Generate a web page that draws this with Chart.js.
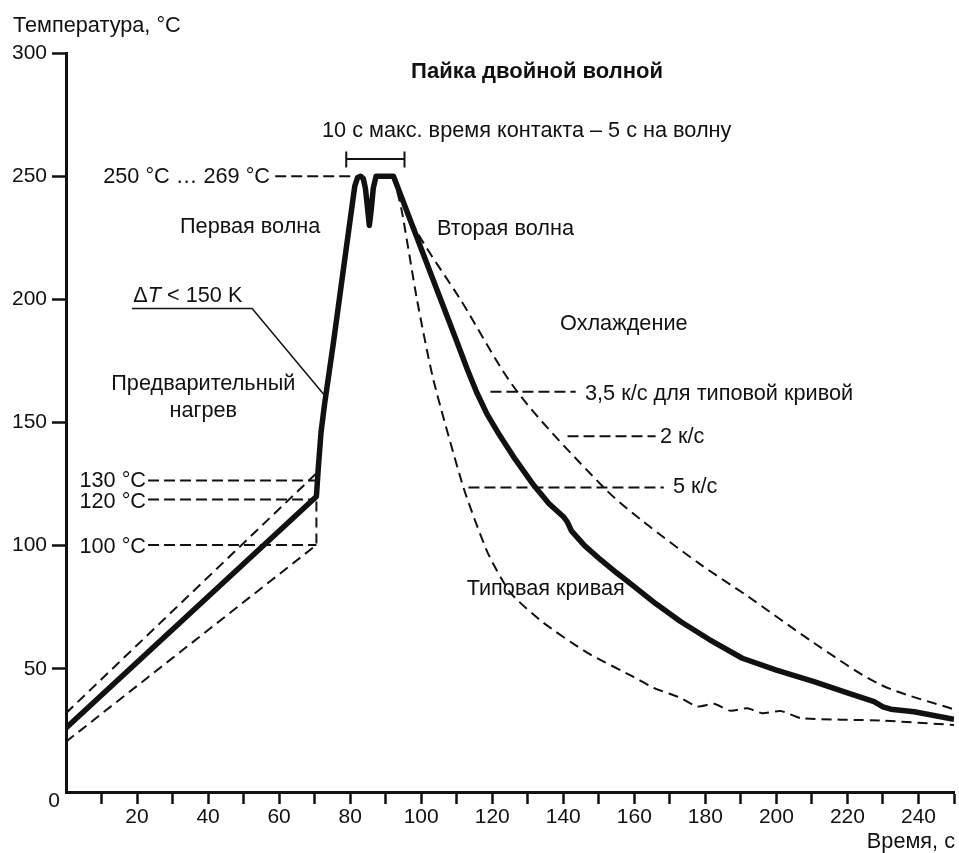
<!DOCTYPE html>
<html>
<head>
<meta charset="utf-8">
<style>
  html, body { margin: 0; padding: 0; background: #fff; }
  canvas { display: block; }
</style>
<script src="https://cdn.jsdelivr.net/npm/chart.js@4.4.1/dist/chart.umd.min.js"></script>
</head>
<body>
<canvas id="chart" width="959" height="853"></canvas>
<script>
// wave soldering profile: time, s / temperature, °C
const profileTime = [0, 70.5, 71.0, 71.8, 72.8, 75.3, 78.6, 81.3, 82.1, 82.9, 83.7, 84.3, 84.9, 85.4, 85.9, 86.5, 87.3,
  92.2, 104, 110, 113, 115.6, 118.5, 122, 126.5, 131.7, 136, 140.2, 141.2, 142.3, 146, 150.5, 155, 159.9,
  166, 173, 181, 190.4, 200, 210.6, 220, 227.5, 230, 232.2, 238.8, 250];
const profileTemp = [26, 120, 131, 146, 157.5, 182.5, 217.5, 246, 249.5, 250, 249, 245, 237, 230, 236, 245, 250,
  250, 205.5, 183, 171.5, 162.3, 153.5, 145, 135, 124.5, 117, 111.5, 109.5, 106, 100, 94.3, 89, 83.5,
  76.5, 69.2, 62, 54.3, 49.5, 44.8, 40.2, 36.7, 34.6, 33.6, 32.6, 29.5];

// slow cooling limit (2 K/s)
const slowTime = [92.2, 98.4, 111, 127.1, 151.4, 161.8, 178.7, 191.8, 210.6, 229.4, 250];
const slowTemp = [250, 228.5, 200, 162.4, 123.6, 110.6, 92.3, 79.6, 60.5, 43.5, 33.5];

// typical curve
const typicalTime = [92.2, 94.6, 98.8, 103.4, 111.9, 118.7, 125.1, 134.4, 146.8, 159.8, 165.4, 173,
  177.7, 182.4, 187.1, 191.8, 196, 201.2, 206.9, 229.4, 250];
const typicalTemp = [250, 235.4, 200, 167.5, 123.6, 97.2, 80.9, 68.7, 56.5, 46.7, 42.3, 38.2,
  34.7, 35.8, 33, 34, 32, 32.9, 30, 29, 27.2];

// preheat band
const preUpperTime = [0, 71.1];
const preUpperTemp = [32, 130.2];
const preLowerTime = [0, 70.5, 70.5];
const preLowerTemp = [20.4, 100.3, 119];

// dashed guide lines to the labels
const guideFrom = [23.1, 23.1, 23.1, 58.9, 119.5, 141.2, 113.3];
const guideTo = [70.7, 70.5, 70.5, 81, 143.5, 166, 168.3];
const guideTemp = [126.5, 118.7, 100.3, 250, 162.5, 144.4, 123.6];

// delta T pointer and contact time bracket
const deltaTime = [18.6, 52.4, 72.6];
const deltaTemp = [196.3, 196.3, 161.4];
const bracketTime = [78.9, 78.9, 78.9, 95.3, 95.3, 95.3];
const bracketTemp = [253.5, 260, 257, 257, 260, 253.5];

const ink = "#111";
const fontFamily = '"Liberation Sans", Arial, Helvetica, sans-serif';
const textSize = 21.7;

function points(xs, ys) {
  return xs.map((x, i) => ({ x: x, y: ys[i] }));
}

function series(xs, ys, style) {
  return Object.assign({
    data: points(xs, ys),
    borderColor: ink,
    pointRadius: 0,
    fill: false,
    tension: 0,
    borderWidth: 2
  }, style);
}

const dashed = { borderDash: [10, 6], borderWidth: 2 };

const datasets = [
  series(profileTime, profileTemp, { borderWidth: 5.5, borderJoinStyle: "round" }),
  series(slowTime, slowTemp, Object.assign({ tension: 0.3 }, dashed)),
  series(typicalTime, typicalTemp, Object.assign({ tension: 0.2 }, dashed)),
  series(preUpperTime, preUpperTemp, dashed),
  series(preLowerTime, preLowerTemp, dashed),
  series(deltaTime, deltaTemp, { borderWidth: 1.5 }),
  series(bracketTime, bracketTemp, { borderWidth: 2 })
];
guideTemp.forEach((t, i) => {
  datasets.push(series([guideFrom[i], guideTo[i]], [t, t], { borderDash: [11, 5], borderWidth: 2 }));
});

// texts placed on the canvas
const labels = [
  { text: "Температура, °C", x: 13, y: 31.7, align: "left" },
  { text: "Пайка двойной волной", x: 537, y: 77.5, align: "center", bold: true },
  { text: "10 с макс. время контакта – 5 с на волну", x: 322, y: 136.7, align: "left" },
  { text: "250 °C … 269 °C", x: 270, y: 183.3, align: "right" },
  { text: "Первая волна", x: 180, y: 233.3, align: "left" },
  { text: "Вторая волна", x: 437, y: 235, align: "left" },
  { text: "Охлаждение", x: 560, y: 330, align: "left" },
  { text: "Предварительный", x: 203.3, y: 390, align: "center" },
  { text: "нагрев", x: 203.3, y: 416.7, align: "center" },
  { text: "3,5 к/с для типовой кривой", x: 585, y: 400, align: "left" },
  { text: "2 к/с", x: 660, y: 443.3, align: "left" },
  { text: "5 к/с", x: 673, y: 493.3, align: "left" },
  { text: "Типовая кривая", x: 466.7, y: 595, align: "left" },
  { text: "130 °C", x: 146, y: 486.7, align: "right" },
  { text: "120 °C", x: 146, y: 508.3, align: "right" },
  { text: "100 °C", x: 146, y: 553.3, align: "right" },
  { text: "Время, с", x: 955, y: 848.3, align: "right" },
  { text: "0", x: 60, y: 806.7, align: "right", size: 21 }
];

const textPlugin = {
  id: "texts",
  afterDraw(chart) {
    const ctx = chart.ctx;
    ctx.save();
    ctx.fillStyle = ink;
    ctx.textBaseline = "alphabetic";
    labels.forEach(l => {
      ctx.font = (l.bold ? "bold 22px " : (l.size || textSize) + "px ") + fontFamily;
      ctx.textAlign = l.align;
      ctx.fillText(l.text, l.x, l.y);
    });
    // ΔT < 150 K with italic T
    ctx.textAlign = "left";
    let x = 133.3;
    const y = 301.7;
    const plain = textSize + "px " + fontFamily;
    ctx.font = plain;
    ctx.fillText("Δ", x, y);
    x += ctx.measureText("Δ").width;
    ctx.font = "italic " + plain;
    ctx.fillText("T", x, y);
    x += ctx.measureText("T").width;
    ctx.font = plain;
    ctx.fillText(" < 150 K", x, y);
    ctx.restore();
  }
};

Chart.defaults.font.family = fontFamily;
Chart.defaults.font.size = 21;
Chart.defaults.color = ink;

const hideZeroTick = c => (c.tick && c.tick.value === 0 ? "rgba(0,0,0,0)" : ink);

new Chart(document.getElementById("chart"), {
  type: "line",
  data: { datasets: datasets },
  options: {
    animation: false,
    responsive: false,
    devicePixelRatio: 1,
    layout: { padding: { top: 53, right: 5, left: 0, bottom: 0 } },
    plugins: {
      legend: { display: false },
      tooltip: { enabled: false }
    },
    scales: {
      x: {
        type: "linear",
        min: 0,
        max: 250,
        afterFit: scale => { scale.height = 61; },
        ticks: {
          stepSize: 10,
          autoSkip: false,
          maxRotation: 0,
          padding: 1,
          callback: v => (v % 20 === 0 && v > 0 && v < 250 ? v : "")
        },
        grid: { drawOnChartArea: false, tickLength: 12, tickWidth: 2.5, tickColor: hideZeroTick },
        border: { color: ink, width: 3 }
      },
      y: {
        type: "linear",
        min: 0,
        max: 300,
        afterFit: scale => { scale.width = 66; },
        ticks: {
          stepSize: 50,
          padding: 5,
          callback: v => (v === 0 ? "" : v)
        },
        grid: { drawOnChartArea: false, tickLength: 14, tickWidth: 2.5, tickColor: hideZeroTick },
        border: { color: ink, width: 3 }
      }
    }
  },
  plugins: [textPlugin]
});
</script>
</body>
</html>
